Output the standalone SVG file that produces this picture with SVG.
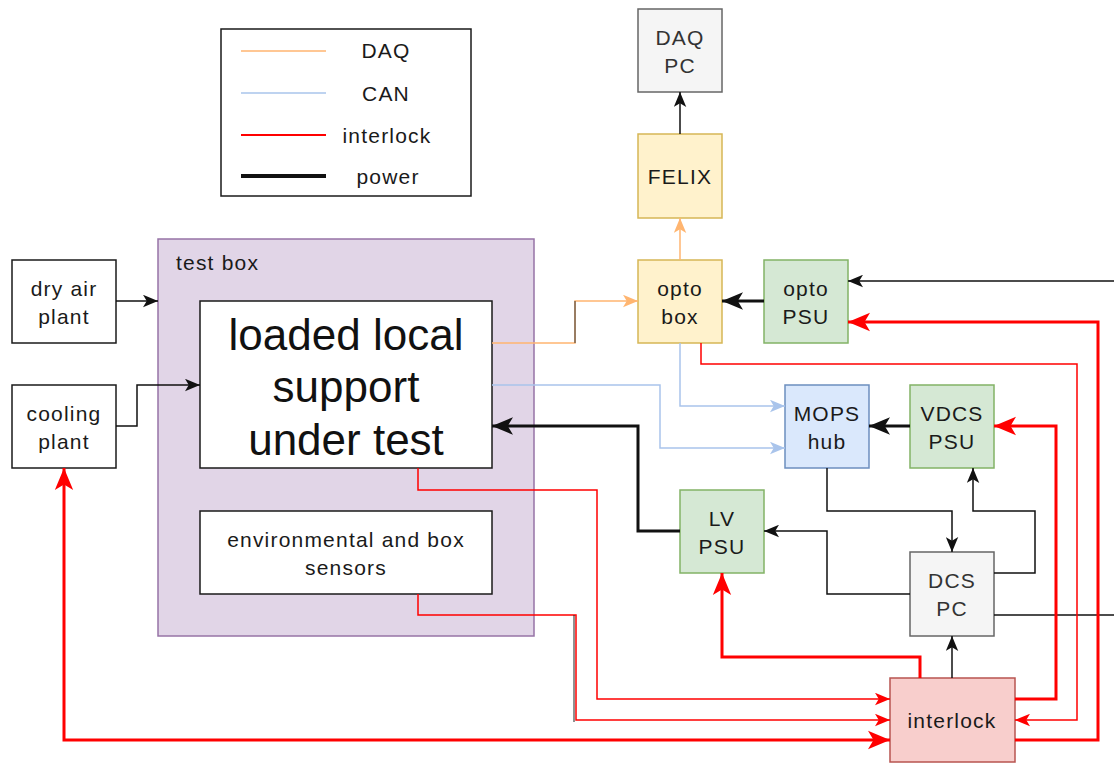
<svg xmlns="http://www.w3.org/2000/svg" width="1114" height="763" viewBox="0 0 1114 763">
  <defs>
    <style>
      .lbl { font-family: "Liberation Sans", Arial, sans-serif; font-size: 21px; letter-spacing: 1.2px; fill: #1a1a1a; text-anchor: middle; }
      .grey { fill: #333333; }
      .big { font-family: "Liberation Sans", Arial, sans-serif; font-size: 44px; fill: #111; text-anchor: middle; }
      .plain { fill: #ffffff; stroke: #1a1a1a; stroke-width: 1.5; }
      .yellow { fill: #fff2cc; stroke: #d6b656; stroke-width: 1.5; }
      .green { fill: #d5e8d4; stroke: #82b366; stroke-width: 1.5; }
      .blue { fill: #dae8fc; stroke: #6c8ebf; stroke-width: 1.5; }
      .gray { fill: #f5f5f5; stroke: #666666; stroke-width: 1.5; }
      .pink { fill: #f8cecc; stroke: #b85450; stroke-width: 1.5; }
      .purple { fill: #e1d5e7; stroke: #9673a6; stroke-width: 1.5; }
      .w { fill: none; stroke-linejoin: miter; }
      .daq { stroke: #ffb570; stroke-width: 1.5; }
      .can { stroke: #a9c4eb; stroke-width: 1.5; }
      .ilk { stroke: #ff0000; stroke-width: 1.5; }
      .ilk3 { stroke: #ff0000; stroke-width: 3; }
      .pw { stroke: #111111; stroke-width: 1.5; }
      .pw3 { stroke: #111111; stroke-width: 3; }
    </style>
    <marker id="aK" viewBox="0 0 12 10" refX="12" refY="5" markerWidth="15" markerHeight="13" markerUnits="userSpaceOnUse" orient="auto">
      <path d="M0,0 L12,5 L0,10 L3,5 Z" fill="#111111"/>
    </marker>
    <marker id="aK3" viewBox="0 0 12 10" refX="12" refY="5" markerWidth="21" markerHeight="19" markerUnits="userSpaceOnUse" orient="auto">
      <path d="M0,0 L12,5 L0,10 L3,5 Z" fill="#111111"/>
    </marker>
    <marker id="aR" viewBox="0 0 12 10" refX="12" refY="5" markerWidth="15" markerHeight="13" markerUnits="userSpaceOnUse" orient="auto">
      <path d="M0,0 L12,5 L0,10 L3,5 Z" fill="#ff0000"/>
    </marker>
    <marker id="aR3" viewBox="0 0 12 10" refX="12" refY="5" markerWidth="22" markerHeight="20" markerUnits="userSpaceOnUse" orient="auto-start-reverse">
      <path d="M0,0 L12,5 L0,10 L3,5 Z" fill="#ff0000"/>
    </marker>
    <marker id="aO" viewBox="0 0 12 10" refX="12" refY="5" markerWidth="15" markerHeight="13" markerUnits="userSpaceOnUse" orient="auto">
      <path d="M0,0 L12,5 L0,10 L3,5 Z" fill="#ffb570"/>
    </marker>
    <marker id="aB" viewBox="0 0 12 10" refX="12" refY="5" markerWidth="15" markerHeight="13" markerUnits="userSpaceOnUse" orient="auto">
      <path d="M0,0 L12,5 L0,10 L3,5 Z" fill="#a9c4eb"/>
    </marker>
  </defs>

  <rect width="1114" height="763" fill="#ffffff"/>

  <!-- legend -->
  <g id="legend">
    <rect x="221" y="29" width="250" height="167" fill="#ffffff" stroke="#1a1a1a" stroke-width="1.5"/>
    <line x1="241" y1="51" x2="326" y2="51" stroke="#ffb570" stroke-width="1.5"/>
    <line x1="241" y1="93" x2="326" y2="93" stroke="#a9c4eb" stroke-width="1.5"/>
    <line x1="241" y1="135" x2="326" y2="135" stroke="#ff0000" stroke-width="2"/>
    <line x1="241" y1="176" x2="326" y2="176" stroke="#111111" stroke-width="4"/>
    <text class="lbl" x="386" y="58">DAQ</text>
    <text class="lbl" x="386" y="101">CAN</text>
    <text class="lbl" x="387" y="143">interlock</text>
    <text class="lbl" x="388" y="184">power</text>
  </g>

  <!-- test box container -->
  <g id="test-box">
    <rect class="purple" x="158" y="239" width="376" height="397"/>
    <text class="lbl" x="176" y="270" style="text-anchor:start">test box</text>
  </g>

  <g id="local-support">
    <rect class="plain" x="200" y="301" width="292" height="167"/>
    <text class="big" x="346" y="350">loaded local</text>
    <text class="big" x="346" y="402">support</text>
    <text class="big" x="346" y="455">under test</text>
  </g>

  <g id="env-sensors">
    <rect class="plain" x="200" y="511" width="292" height="83"/>
    <text class="lbl" x="346" y="547">environmental and box</text>
    <text class="lbl" x="346" y="575">sensors</text>
  </g>

  <g id="dry-air-plant">
    <rect class="plain" x="12" y="260" width="104" height="83"/>
    <text class="lbl" x="64" y="296">dry air</text>
    <text class="lbl" x="64" y="324">plant</text>
  </g>

  <g id="cooling-plant">
    <rect class="plain" x="12" y="385" width="104" height="83"/>
    <text class="lbl" x="64" y="421">cooling</text>
    <text class="lbl" x="64" y="449">plant</text>
  </g>

  <g id="daq-pc">
    <rect class="gray" x="638" y="9" width="84" height="83"/>
    <text class="lbl grey" x="680" y="45">DAQ</text>
    <text class="lbl grey" x="680" y="73">PC</text>
  </g>

  <g id="felix">
    <rect class="yellow" x="638" y="134" width="84" height="84"/>
    <text class="lbl" x="680" y="184">FELIX</text>
  </g>

  <g id="opto-box">
    <rect class="yellow" x="638" y="260" width="84" height="83"/>
    <text class="lbl" x="680" y="296">opto</text>
    <text class="lbl" x="680" y="324">box</text>
  </g>

  <g id="opto-psu">
    <rect class="green" x="764" y="260" width="84" height="83"/>
    <text class="lbl" x="806" y="296">opto</text>
    <text class="lbl" x="806" y="324">PSU</text>
  </g>

  <g id="mops-hub">
    <rect class="blue" x="785" y="385" width="84" height="83"/>
    <text class="lbl" x="827" y="421">MOPS</text>
    <text class="lbl" x="827" y="449">hub</text>
  </g>

  <g id="vdcs-psu">
    <rect class="green" x="910" y="385" width="84" height="83"/>
    <text class="lbl" x="952" y="421">VDCS</text>
    <text class="lbl" x="952" y="449">PSU</text>
  </g>

  <g id="lv-psu">
    <rect class="green" x="680" y="490" width="84" height="83"/>
    <text class="lbl" x="722" y="526">LV</text>
    <text class="lbl" x="722" y="554">PSU</text>
  </g>

  <g id="dcs-pc">
    <rect class="gray" x="910" y="552" width="84" height="84"/>
    <text class="lbl grey" x="952" y="588">DCS</text>
    <text class="lbl grey" x="952" y="616">PC</text>
  </g>

  <g id="interlock">
    <rect class="pink" x="890" y="678" width="125" height="84"/>
    <text class="lbl" x="952" y="728">interlock</text>
  </g>

  <!-- connectors -->
  <g id="connectors" class="w">
    <!-- services into the test box -->
    <path class="pw" d="M116,301 H158" marker-end="url(#aK)"/>
    <path class="pw" d="M116,426 H137 V385 H200" marker-end="url(#aK)"/>

    <!-- DAQ chain -->
    <path class="daq" d="M492,343 H575 V301 H638" marker-end="url(#aO)"/>
    <path class="daq" d="M680,260 V218" marker-end="url(#aO)"/>
    <path class="pw" d="M680,134 V92" marker-end="url(#aK)"/>
    <line x1="575" y1="301" x2="575" y2="343" stroke="#333333" stroke-width="1"/>

    <!-- CAN bus -->
    <path class="can" d="M492,385 H660 V448 H785" marker-end="url(#aB)"/>
    <path class="can" d="M680,343 V406 H785" marker-end="url(#aB)"/>

    <!-- power -->
    <path class="pw3" d="M764,301 H722" marker-end="url(#aK3)"/>
    <path class="pw3" d="M910,426 H869" marker-end="url(#aK3)"/>
    <path class="pw3" d="M680,531 H638 V426 H492" marker-end="url(#aK3)"/>
    <path class="pw" d="M1114,281 H848" marker-end="url(#aK)"/>

    <!-- DCS control -->
    <path class="pw" d="M827,468 V511 H952 V552" marker-end="url(#aK)"/>
    <path class="pw" d="M994,573 H1035 V511 H973 V468" marker-end="url(#aK)"/>
    <path class="pw" d="M910,594 H827 V531 H764" marker-end="url(#aK)"/>
    <path class="pw" d="M994,615 H1114"/>
    <path class="pw" d="M952,678 V636" marker-end="url(#aK)"/>

    <!-- interlock inputs -->
    <path class="ilk" d="M418,468 V490 H597 V699 H890" marker-end="url(#aR)"/>
    <path class="ilk" d="M418,594 V615 H576 V720 H890" marker-end="url(#aR)"/>
    <line x1="574" y1="615" x2="574" y2="722" stroke="#222222" stroke-width="1"/>
    <path class="ilk" d="M701,343 V364 H1077 V720 H1015" marker-end="url(#aR)"/>

    <!-- interlock outputs -->
    <path class="ilk3" d="M64,468 V740 H890" marker-start="url(#aR3)" marker-end="url(#aR3)"/>
    <path class="ilk3" d="M920,678 V657 H722 V573" marker-end="url(#aR3)"/>
    <path class="ilk3" d="M1015,699 H1056 V426 H994" marker-end="url(#aR3)"/>
    <path class="ilk3" d="M1015,740 H1098 V322 H848" marker-end="url(#aR3)"/>
  </g>
</svg>
